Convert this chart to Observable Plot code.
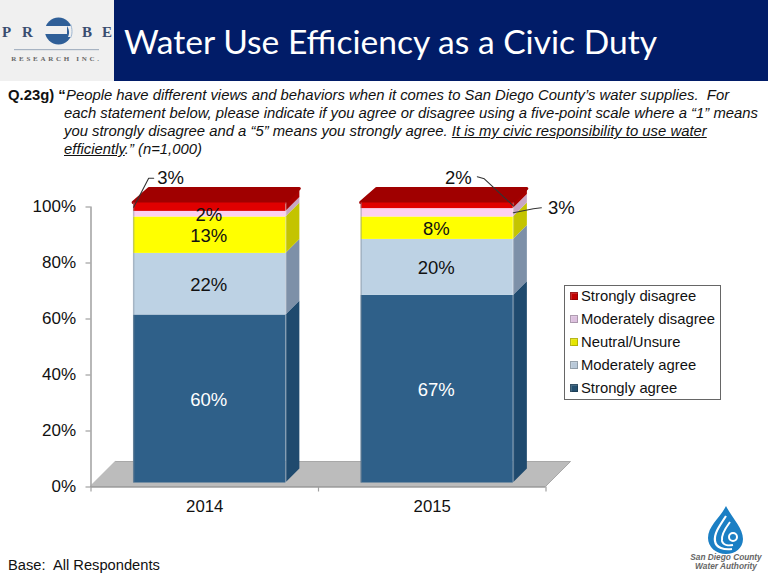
<!DOCTYPE html>
<html><head><meta charset="utf-8">
<script src="https://cdn.jsdelivr.net/npm/d3@7"></script>
<script src="https://cdn.jsdelivr.net/npm/@observablehq/plot@0.6"></script>
<style>
html,body{margin:0;padding:0;background:#fff;width:768px;height:575px;overflow:hidden;font-family:"Liberation Sans",Arial,sans-serif;color:#111}
#page{position:relative;width:768px;height:575px}
#logoBox{position:absolute;left:0;top:0;width:114px;height:81px;background:#f0f0f0}
#band{position:absolute;left:114px;top:0;width:654px;height:81px;background:#011c68}
#title{position:absolute;left:124px;top:18px;color:#fff;font:33.6px/46px Lato,sans-serif;white-space:nowrap}
.q{position:absolute;font-size:14.85px;line-height:18px;white-space:nowrap;font-style:italic;left:64px}
#qn{position:absolute;left:8px;top:86px;font:bold 14.85px/18px "Liberation Sans";white-space:nowrap}
#chart{position:absolute;left:0;top:165px}
#legend{position:absolute;left:564px;top:285px;width:155px;height:113px;border:1.5px solid #666;background:#fff}
.lg{position:absolute;left:5px;font-size:14.8px;line-height:18px;white-space:nowrap;padding-left:11px;color:#111}
.lg i{position:absolute;left:0;top:5px;width:8px;height:8px;box-shadow:inset 0 0 0 1px rgba(0,0,0,.22),inset 2px 2px 0 rgba(255,255,255,.15)}
#base{position:absolute;left:8px;top:556px;font-size:14.7px;line-height:18px;white-space:pre}
svg.deco{position:absolute;overflow:visible}
</style></head><body>
<div id="page">
<div id="logoBox"></div><div id="band"></div>
<svg class="deco" style="left:0;top:0" width="114" height="81">
 <g font-family="Liberation Serif" font-weight="bold" fill="#3a4d70" font-size="15">
  <text x="2" y="37">P</text><text x="22" y="37">R</text><text x="82" y="37">B</text><text x="102" y="37">E</text></g>
 <circle cx="58.5" cy="31" r="13.5" fill="#2f5f98"/>
 <rect x="45" y="26" width="22" height="8" fill="#f0f0f0"/>
 <path d="M67 26 H72 V37 H68 C70 33 69 29 67 26Z" fill="#f0f0f0"/>
 <path d="M70.5 24 C72.5 29 72.5 34 70.5 38" fill="none" stroke="#9db6d2" stroke-width="1"/>
 <rect x="14" y="49" width="85" height="1.2" fill="#a7b3c2"/>
 <text x="56.5" y="61" text-anchor="middle" font-family="Liberation Serif" font-weight="bold" font-size="7" letter-spacing="2.7" fill="#666">RESEARCH INC.</text>
</svg>
<div id="title">Water Use Efficiency as a Civic Duty</div>
<div id="qn">Q.23g) “</div>
<div class="q" style="top:86px;left:66px">People have different views and behaviors when it comes to San Diego County’s water supplies.&nbsp; For</div>
<div class="q" style="top:104px">each statement below, please indicate if you agree or disagree using a five-point scale where a “1” means</div>
<div class="q" style="top:122px">you strongly disagree and a “5” means you strongly agree. <u>It is my civic responsibility to use water</u></div>
<div class="q" style="top:140px"><u>efficiently</u>.” (<i>n</i>=1,000)</div>
<div id="chart"></div>
<div id="legend"></div>
<div id="base">Base:  All Respondents</div>
<svg class="deco" style="left:690px;top:500px" width="78" height="75">
 <path d="M19 6 C25 18 36 28 36 39 C36 48 28 54 19 54 C9 54 1 47 1 38 C1 26 13 18 19 6Z" fill="#1b7fc4" transform="translate(17,0)"/>
 <path d="M36 16 C28 28 24 34 25 41 C26 48 34 50 42 49" fill="none" stroke="#fff" stroke-width="2.2"/>
 <path d="M40 22 C34 30 31 36 32 41 C33 45 38 46 43 45" fill="none" stroke="#fff" stroke-width="2"/>
 <circle cx="43" cy="37" r="4" fill="none" stroke="#fff" stroke-width="2"/>
 <g font-family="Liberation Sans" font-style="italic" font-weight="bold" font-size="8.3" fill="#666" text-anchor="middle">
  <text x="36" y="60">San Diego County</text><text x="36" y="69">Water Authority</text></g>
</svg>
</div>
<script>
// ---- data ----
const years = ["2014", "2015"];
const categories = ["Strongly agree", "Moderately agree", "Neutral/Unsure", "Moderately disagree", "Strongly disagree"];
const values2014 = [60, 22, 13, 2, 3];
const values2015 = [67, 20, 8, 3, 2];
const frontColors = ["#2f6089", "#bdd2e4", "#ffff00", "#fdd0f0", "#e00000"];
const sideColors = ["#1f4a6e", "#7d90a8", "#c4c400", "#c8a6c4", "#a80000"];
const topColor = "#a00000";
const legendColors = ["#24506f", "#b8c8d8", "#e6e600", "#dcc0de", "#c00000"];
const yTicks = [0, 20, 40, 60, 80, 100];

// ---- geometry of the pseudo-3D plot ----
const pxX = 227.25, pxY = 2.8;              // pixels per x unit / per percent
const X = p => p / pxX, Y = p => p / pxY;   // pixels -> data units
const plane = {dx: 5, dy: -4};              // the bars stand a little inside the floor
const halfBar = 0.3345, depth = 14;

const rows = [];
[values2014, values2015].forEach((vals, i) => {
  let acc = 0;
  vals.forEach((v, c) => {
    rows.push({year: i, x1: i + .5 - halfBar, x2: i + .5 + halfBar, y1: acc, y2: acc + v, v,
               front: frontColors[c], side: sideColors[c], c});
    acc += v;
  });
});
// side faces as two-row parallelograms
const sideRows = rows.flatMap(r => [
  {k: r.year + "-" + r.c, side: r.side, x1: r.x2, y1: r.y1, x2: r.x2, y2: r.y2},
  {k: r.year + "-" + r.c, side: r.side, x1: r.x2 + X(depth), y1: r.y1 + Y(depth), x2: r.x2 + X(depth), y2: r.y2 + Y(depth)}
]);
const topRows = years.flatMap((_, i) => [
  {k: i, x1: i + .5 - halfBar, y1: 100, x2: i + .5 - halfBar + X(depth+2), y2: 100 + Y(depth)},
  {k: i, x1: i + .5 + halfBar, y1: 100, x2: i + .5 + halfBar + X(depth), y2: 100 + Y(depth)}
]);
const floorRows = [
  {x1: 0, y1: 0, x2: X(25), y2: Y(25)},
  {x1: 2, y1: 0, x2: 2 + X(25), y2: Y(25)}
];
const seg = (i, c) => rows.find(r => r.year === i && r.c === c);
const mid = r => (r.y1 + r.y2) / 2;

// leaders: start on a segment, then pixel offsets
const leader = (id, start, offs) => {
  let [x, y] = start; const out = [{id, x, y}];
  offs.forEach(([a, b]) => { x += X(a); y -= Y(b); out.push({id, x, y}); });
  return out;
};
const leaders = [
  ...leader("a", [seg(0, 4).x1, mid(seg(0, 4))], [[15, -29], [5, 0]]),
  ...leader("b", [seg(1, 4).x2, mid(seg(1, 4))], [[-29, -27], [-7, -2]]),
  ...leader("c", [seg(1, 3).x2, mid(seg(1, 3))], [[20, -4], [8, -1]])
];
const last = id => leaders.filter(d => d.id === id).pop();
const callouts = [
  {p: last("a"), t: "3%", dx: 17, dy: 0},
  {p: last("b"), t: "2%", dx: -19, dy: 1},
  {p: last("c"), t: "3%", dx: 20, dy: 0}
];
const inner = rows.filter(r => r.v > 3 || (r.year === 0 && r.c === 3));

const chart = Plot.plot({
  width: 768, height: 385,
  marginLeft: 90.5, marginRight: 222.5, marginTop: 41.5, marginBottom: 63.5,
  x: {domain: [0, 2]},
  y: {domain: [0, 100]},
  style: {background: "transparent", fontFamily: "Liberation Sans", overflow: "visible"},
  marks: [
    Plot.area(floorRows, {x1: "x1", y1: "y1", x2: "x2", y2: "y2", fill: "#bcbcbc", stroke: "#a8a8a8", strokeWidth: 1}),
    Plot.ruleX([0], {y1: 0, y2: 100, stroke: "#a6a6a6", strokeWidth: 1.6}),
    Plot.ruleY([0], {stroke: "#9e9e9e", strokeWidth: 1.6}),
    Plot.axisY({ticks: yTicks, tickFormat: d => d + "%", tickSize: 5, tickPadding: 10, fontSize: 17, stroke: "#a0a0a0", color: "#111", label: null, strokeWidth: 1.2}),
    Plot.axisX({ticks: [0, 1, 2], tickFormat: () => "", tickSize: 5, stroke: "#a0a0a0", label: null, strokeWidth: 1.2}),
    Plot.axisX({ticks: [.5, 1.5], tickFormat: d => years[d - .5], tickSize: 0, tickPadding: 13, fontSize: 16.8, color: "#111", label: null}),
    Plot.area(sideRows, {x1: "x1", y1: "y1", x2: "x2", y2: "y2", z: "k", fill: "side", ...plane}),
    Plot.area(topRows, {x1: "x1", y1: "y1", x2: "x2", y2: "y2", z: "k", fill: topColor, stroke: topColor, strokeWidth: 3, strokeLinejoin: "round", ...plane}),
    Plot.rect(rows, {x1: "x1", x2: "x2", y1: "y1", y2: "y2", fill: "front", ...plane}),
    Plot.ruleX(rows, {x: "x1", y1: "y1", y2: "y2", stroke: "#7f8c99", strokeOpacity: .45, strokeWidth: 1.5, ...plane}),
    Plot.ruleX(rows, {x: "x2", y1: "y1", y2: "y2", stroke: "#fff", strokeOpacity: .3, strokeWidth: 1.5, ...plane}),
    Plot.line(leaders, {x: "x", y: "y", z: "id", stroke: "#333", strokeWidth: 1.1, ...plane}),
    Plot.text(inner, {x: r => (r.x1 + r.x2) / 2, y: mid, text: r => r.v + "%", fontSize: 18.5, fill: r => r.c === 0 ? "#fff" : "#111", dx: plane.dx - 1, dy: plane.dy + 1}),
    ...callouts.map(c => Plot.text([c], {x: d => d.p.x, y: d => d.p.y, text: "t", fontSize: 18.5, fill: "#111", dx: plane.dx + c.dx, dy: plane.dy + c.dy}))
  ]
});
document.getElementById("chart").appendChild(chart);

// legend, top entry first
const lg = document.getElementById("legend");
[...categories].reverse().forEach((name, i) => {
  const d = document.createElement("div");
  d.className = "lg"; d.style.top = (0.5 + i * 23) + "px";
  const sw = document.createElement("i");
  sw.style.background = legendColors[categories.length - 1 - i];
  d.appendChild(sw); d.appendChild(document.createTextNode(name));
  lg.appendChild(d);
});
</script>
</body></html>
